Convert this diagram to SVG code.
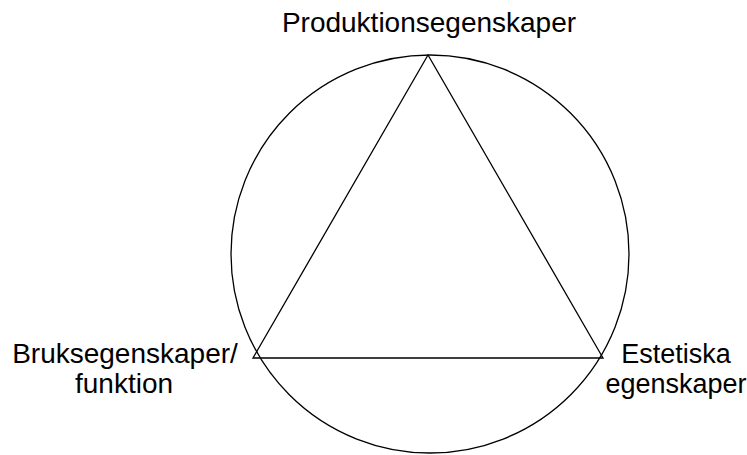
<svg xmlns="http://www.w3.org/2000/svg" width="747" height="455" viewBox="0 0 747 455">
<style>
.s{fill:none;stroke:#000;stroke-width:1.3}
text{font-family:"Liberation Sans",Arial,sans-serif;font-size:28px;fill:#000;text-anchor:middle}
.e{font-size:27px}
</style>
<rect width="747" height="455" fill="#fff"/>
<g id="connectors">
<circle class="s" cx="430" cy="254" r="199"/>
<polygon class="s" points="428,55 253,358 603,358"/>
</g>
<g id="prod"><text x="429" y="32">Produktionsegenskaper</text></g>
<g id="bruk"><text x="125" y="363">Bruksegenskaper/</text><text x="124" y="393">funktion</text></g>
<g id="est"><text class="e" x="676" y="363">Estetiska</text><text class="e" x="676" y="393">egenskaper</text></g>
</svg>
